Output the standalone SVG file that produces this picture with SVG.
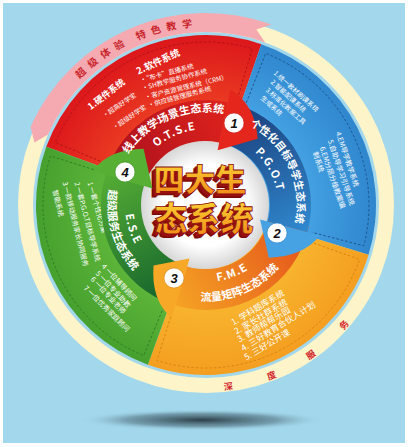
<svg xmlns="http://www.w3.org/2000/svg" width="409" height="447" viewBox="0 0 409 447">
<style>
.cn{font-family:"Noto Sans CJK SC","Noto Sans",sans-serif;}
.w{fill:#ffffff;}
.bt{font-family:"Noto Sans CJK SC",sans-serif;font-weight:700;fill:#ffffff;font-size:11px;}
.lt{font-family:"Noto Sans CJK SC",sans-serif;font-weight:700;fill:#ffffff;font-size:11px;letter-spacing:1px;}
.sm{font-family:"Noto Sans CJK SC",sans-serif;fill:#ffffff;}
.ring{font-family:"Noto Sans CJK SC",sans-serif;font-weight:700;fill:#c9252c;font-size:10px;text-anchor:middle;}
.num{font-family:"Liberation Sans",Arial,sans-serif;font-weight:700;font-style:italic;font-size:13px;fill:#111;text-anchor:middle;}
.dash{fill:none;stroke-width:1;stroke-dasharray:2.5 2;}
.ttl{font-family:"Noto Sans CJK SC",sans-serif;font-weight:900;text-anchor:middle;}
</style>
<defs>
<radialGradient id="gRed" gradientUnits="userSpaceOnUse" cx="206" cy="205" r="170"><stop offset="0.6" stop-color="#ea3b22"/><stop offset="1" stop-color="#dc171b"/></radialGradient>
<radialGradient id="gBlue" gradientUnits="userSpaceOnUse" cx="206" cy="205" r="170"><stop offset="0.6" stop-color="#44a1e2"/><stop offset="1" stop-color="#2f86cd"/></radialGradient>
<radialGradient id="gOr" gradientUnits="userSpaceOnUse" cx="206" cy="205" r="170"><stop offset="0.6" stop-color="#f8b42e"/><stop offset="1" stop-color="#f49e20"/></radialGradient>
<radialGradient id="gGr" gradientUnits="userSpaceOnUse" cx="206" cy="205" r="170"><stop offset="0.6" stop-color="#5db539"/><stop offset="1" stop-color="#46a02e"/></radialGradient>
<linearGradient id="bRed" gradientUnits="userSpaceOnUse" x1="106" y1="173" x2="228" y2="102"><stop offset="0" stop-color="#a80f1e"/><stop offset="1" stop-color="#df231c"/></linearGradient>
<linearGradient id="bBlue" gradientUnits="userSpaceOnUse" x1="238" y1="105" x2="307" y2="232"><stop offset="0" stop-color="#1a3d78"/><stop offset="1" stop-color="#3089d0"/></linearGradient>
<linearGradient id="bOr" gradientUnits="userSpaceOnUse" x1="308" y1="227" x2="175" y2="305"><stop offset="0" stop-color="#e4501b"/><stop offset="1" stop-color="#f5a324"/></linearGradient>
<linearGradient id="bGr" gradientUnits="userSpaceOnUse" x1="174" y1="305" x2="106" y2="174"><stop offset="0" stop-color="#11602d"/><stop offset="1" stop-color="#55ad34"/></linearGradient>
<radialGradient id="gWhite" cx="0.5" cy="0.5" r="0.5"><stop offset="0.65" stop-color="#ffffff"/><stop offset="1" stop-color="#d6d6d6"/></radialGradient>
<linearGradient id="gGold" x1="0" y1="0" x2="0" y2="1"><stop offset="0" stop-color="#ffe03a"/><stop offset="1" stop-color="#f08214"/></linearGradient>
<radialGradient id="gShadow" cx="0.5" cy="0.5" r="0.5"><stop offset="0" stop-color="#1f2e36" stop-opacity="0.9"/><stop offset="0.6" stop-color="#3a5460" stop-opacity="0.45"/><stop offset="1" stop-color="#a3d8ec" stop-opacity="0"/></radialGradient>
<path id="pRed" d="M123.1,162.8 A93,93 0 0 1 233.2,116.1"/>
<path id="pRed2" d="M144.5,160.3 A76,76 0 0 1 213.9,129.4"/>
<path id="pBlue" d="M244.5,122.5 A91,91 0 0 1 293.9,228.6"/>
<path id="pBlue2" d="M247.3,146.0 A72,72 0 0 1 277.9,201.2"/>
<path id="pOr" d="M189.3,299.5 A96,96 0 0 0 285.6,258.7"/>
<path id="pOr2" d="M206,282 A77,77 0 0 0 257.5,262.2"/>
<path id="pGr" d="M113.9,171.5 A98,98 0 0 0 147.0,283.3"/>
<path id="pGr2" d="M125,205 A81,81 0 0 0 140.5,252.6"/>
</defs>

<rect x="0" y="0" width="409" height="447" fill="#ffffff"/>
<rect x="3" y="3" width="402" height="440" fill="#a3d8ec"/>
<ellipse cx="202" cy="420" rx="125" ry="11" fill="url(#gShadow)"/>

<g id="outer-ring">
<circle cx="206" cy="205" r="180.5" fill="none" stroke="#fdf4c9" stroke-width="15"/>
<path d="M30.6,126.9 A192,192 0 0 1 271.7,24.6 L256.3,29.6 L265.2,42.4 A173,173 0 0 0 48.0,134.6 L34.5,142.6 Z" fill="#f5a9b0"/>
<g class="ring">
<text transform="translate(80.7,73.0) rotate(-43.5)" dy="3.5">超</text>
<text transform="translate(92.7,62.6) rotate(-38.5)" dy="3.5">级</text>
<text transform="translate(105.6,53.2) rotate(-33.5)" dy="3.5">体</text>
<text transform="translate(119.1,45.1) rotate(-28.5)" dy="3.5">验</text>
<text transform="translate(140.8,35.1) rotate(-21)" dy="3.5">特</text>
<text transform="translate(155.8,30.0) rotate(-16)" dy="3.5">色</text>
<text transform="translate(171.3,26.3) rotate(-11)" dy="3.5">教</text>
<text transform="translate(187.0,24.0) rotate(-6)" dy="3.5">学</text>
</g>
<g class="ring" style="font-size:9px;fill:#d0262c">
<text transform="translate(228.3,386.6) rotate(-7)" dy="3">深</text>
<text transform="translate(271.6,375.8) rotate(-21)" dy="3">度</text>
<text transform="translate(311.0,354.9) rotate(-35)" dy="3">服</text>
<text transform="translate(344.1,325.1) rotate(-49)" dy="3">务</text>
</g>
</g>

<g id="sector-red">
<path d="M206,205 L46.25,146.86 A170,170 0 0 1 261.35,44.26 Z" fill="url(#gRed)"/>
<path class="dash" stroke="#b3121a" d="M104.4,162.9 L55.4,142.6 A163,163 0 0 1 252.3,48.7 L237.2,99.5"/>
<text class="sm" font-size="9" font-weight="700" transform="translate(89,108) rotate(-38)" y="3">1.硬件系统</text>
<text class="sm" font-size="6.5" transform="translate(103,116) rotate(-34)" y="2.5">·超高好学宝</text>
<text class="sm" font-size="6.5" transform="translate(113,128) rotate(-34)" y="2.5">·超级好学宝</text>
<text class="sm" font-size="9.5" font-weight="700" transform="translate(137,72) rotate(-25)" y="3">2.软件系统</text>
<text class="sm" font-size="6.5" transform="translate(140,80) rotate(-15)" y="2.5">·“布卡”直播系统</text>
<text class="sm" font-size="6.5" transform="translate(142,88) rotate(-15)" y="2.5">·SH教学服务协作系统</text>
<text class="sm" font-size="6.5" transform="translate(145,97) rotate(-14)" y="2.5">·客户资源管理系统（CRM）</text>
<text class="sm" font-size="6.5" transform="translate(148,105) rotate(-15)" y="2.5">·供应链管理服务系统</text>
</g>

<g id="sector-blue">
<path d="M206,205 L261.35,44.26 A170,170 0 0 1 368.57,254.71 Z" fill="url(#gBlue)"/>
<path class="dash" stroke="#1d5592" d="M246.3,102.7 L265.7,53.3 A163,163 0 0 1 363.8,245.8 L312.5,232.5"/>
<text class="sm" font-size="6.5" transform="translate(275,72) rotate(42)" y="2.5">1.统一教材刷课系统</text>
<text class="sm" font-size="6.5" transform="translate(272,81) rotate(42)" y="2.5">2.智能配课系统</text>
<text class="sm" font-size="6.5" transform="translate(267,89) rotate(42)" y="2.5">3.标准化教案工具</text>
<text class="sm" font-size="6.5" transform="translate(262,97) rotate(42)" y="2.5">生成系统</text>
<text class="sm" font-size="7" transform="translate(338,132) rotate(71)" y="2.5">4.EM导学教学系统</text>
<text class="sm" font-size="7" transform="translate(330,140) rotate(71)" y="2.5">5.自助导学习引导系统</text>
<text class="sm" font-size="7" transform="translate(322,147) rotate(71)" y="2.5">6.EM分层分级教案编</text>
<text class="sm" font-size="7" transform="translate(315,152) rotate(71)" y="2.5">制系统</text>
</g>

<g id="sector-orange">
<path d="M206,205 L368.57,254.71 A170,170 0 0 1 147.86,364.75 Z" fill="url(#gOr)"/>
<path class="dash" stroke="#d98312" d="M309.7,241.7 L359.6,259.4 A163,163 0 0 1 157.0,360.5 L172.9,309.9"/>
<text class="sm" font-size="8.5" transform="translate(232,323) rotate(-31)" y="3">1. 学科题库系统</text>
<text class="sm" font-size="8.5" transform="translate(235,332) rotate(-31)" y="3">2. 家长社群系统</text>
<text class="sm" font-size="8.5" transform="translate(238,340) rotate(-31)" y="3">3. 教师帮帮乐园</text>
<text class="sm" font-size="8.5" transform="translate(242,349) rotate(-32)" y="3">4. 三好教育合伙人计划</text>
<text class="sm" font-size="8.5" transform="translate(245,358) rotate(-31)" y="3">5. 三好公开课</text>
</g>

<g id="sector-green">
<path d="M206,205 L147.86,364.75 A170,170 0 0 1 46.25,146.86 Z" fill="url(#gGr)"/>
<path class="dash" stroke="#2f7f22" d="M163.9,306.6 L143.6,355.6 A163,163 0 0 1 50.5,156.0 L101.1,171.9"/>
<text class="sm" font-size="6.8" transform="translate(90,182) rotate(74)" y="2.5">1 一套个性化方案</text>
<text class="sm" font-size="6.8" transform="translate(77,182) rotate(75)" y="2.5">2 一套P.G.O.T目标导学系统</text>
<text class="sm" font-size="6.8" transform="translate(65,182) rotate(76)" y="2.5">3 一款移动服务家长协同服务</text>
<text class="sm" font-size="6.8" transform="translate(55,190) rotate(76)" y="2.5">智能系统</text>
<text class="sm" font-size="7" transform="translate(103,265) rotate(47)" y="2.5">4 一位辅导顾问</text>
<text class="sm" font-size="7" transform="translate(97,272) rotate(47)" y="2.5">5 一位专业助教</text>
<text class="sm" font-size="7" transform="translate(92,278) rotate(47)" y="2.5">6 一位专业老师</text>
<text class="sm" font-size="7" transform="translate(85,287) rotate(45)" y="2.5">7 一位优秀家庭顾问</text>
</g>

<g id="connectors">
<path d="M106.1,172.6 A105,105 0 0 1 227.8,102.3 L219.3,142.4 A64,64 0 0 0 145.1,185.2 Z" fill="url(#bRed)"/>
<path d="M308.7,226.8 A105,105 0 0 1 175.3,305.4 L187.3,266.2 A64,64 0 0 0 268.6,218.3 Z" fill="url(#bOr)"/>
<path d="M173.6,304.9 A105,105 0 0 1 105.6,174.3 L144.8,186.3 A64,64 0 0 0 186.2,265.9 Z" fill="url(#bGr)"/>
<path d="M238.4,105.1 A105,105 0 0 1 307.4,232.2 L267.8,221.6 A64,64 0 0 0 225.8,144.1 Z" fill="url(#bBlue)"/>
</g>

<g id="center">
<circle cx="205" cy="205" r="64" fill="url(#gWhite)"/>
<g class="ttl" font-size="31">
<text x="196" y="195" fill="#7a0a0a">四大生</text>
<text x="197" y="194" fill="#8a0d0d">四大生</text>
<text x="198" y="193" fill="#9c1010">四大生</text>
<text x="200" y="191" fill="url(#gGold)" stroke="#8a0d0d" stroke-width="0.8">四大生</text>
</g>
<g class="ttl" font-size="33">
<text x="200" y="235" fill="#7a0a0a">态系统</text>
<text x="201" y="234" fill="#8a0d0d">态系统</text>
<text x="202" y="233" fill="#9c1010">态系统</text>
<text x="204" y="231" fill="url(#gGold)" stroke="#8a0d0d" stroke-width="0.8">态系统</text>
</g>
</g>

<g id="head-1">
<path d="M230.5,89.6 Q255.1,104.3 257.7,138.8 L217.6,150.2 Z" fill="#e5261d"/>
<circle cx="234" cy="123" r="10" fill="#ffffff" stroke="#c41a18" stroke-width="0.6"/>
<text class="num" x="234" y="127.5">1</text>
</g>
<g id="head-2">
<path d="M320.0,235.5 Q303.1,256.6 268.8,257.7 L260.1,219.5 Z" fill="#46a2e3"/>
<circle cx="277" cy="233" r="10" fill="#ffffff" stroke="#2b7fc2" stroke-width="0.6"/>
<text class="num" x="277" y="237.5">2</text>
</g>
<g id="head-3">
<path d="M171.5,317.8 Q151,300.3 153.5,265.4 L189.6,258.6 Z" fill="#f6a826"/>
<circle cx="174" cy="278" r="10" fill="#ffffff" stroke="#d9861a" stroke-width="0.6"/>
<text class="num" x="174" y="282.5">3</text>
</g>
<g id="head-4">
<path d="M93.2,170.5 Q109.0,149.0 143.6,148.8 L152.4,188.6 Z" fill="#57af34"/>
<circle cx="125" cy="172" r="10" fill="#ffffff" stroke="#3d8c27" stroke-width="0.6"/>
<text class="num" x="125" y="176.5">4</text>
</g>

<g id="band-labels">
<text class="bt"><textPath href="#pRed" startOffset="50%" text-anchor="middle">线上教学场景生态系统</textPath></text>
<text class="lt"><textPath href="#pRed2" startOffset="50%" text-anchor="middle">O.T.S.E</textPath></text>
<text class="bt" style="font-size:10.5px"><textPath href="#pBlue" startOffset="50%" text-anchor="middle">个性化目标导学生态系统</textPath></text>
<text class="lt"><textPath href="#pBlue2" startOffset="50%" text-anchor="middle">P.G.O.T</textPath></text>
<text class="bt"><textPath href="#pOr" startOffset="50%" text-anchor="middle">流量矩阵生态系统</textPath></text>
<text class="lt"><textPath href="#pOr2" startOffset="50%" text-anchor="middle">F.M.E</textPath></text>
<text class="bt"><textPath href="#pGr" startOffset="50%" text-anchor="middle">超级服务生态系统</textPath></text>
<text class="lt"><textPath href="#pGr2" startOffset="50%" text-anchor="middle">E.S.E</textPath></text>
</g>
</svg>
